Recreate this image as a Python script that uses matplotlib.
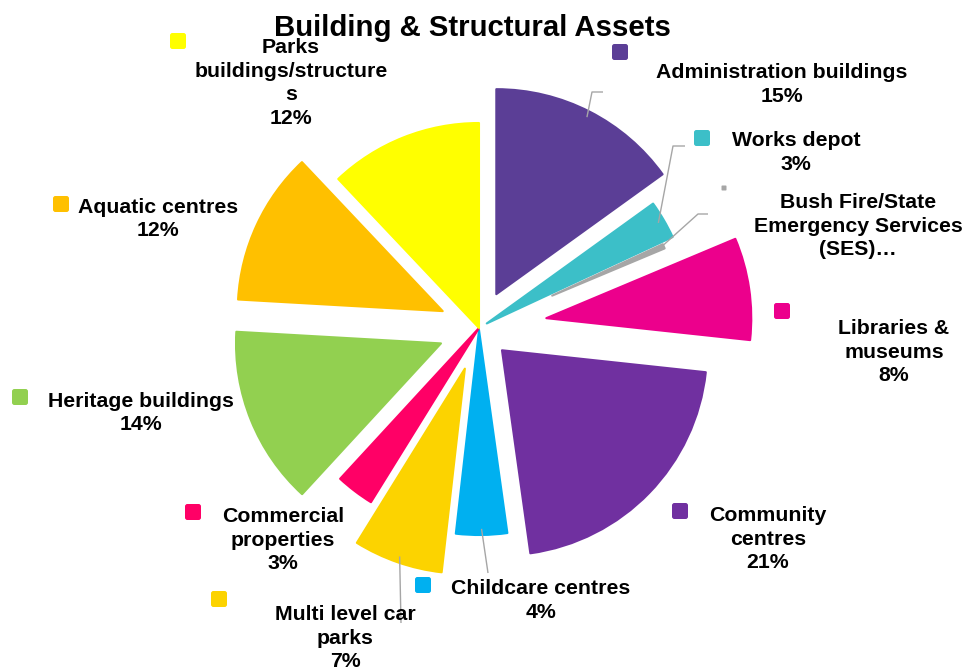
import numpy as np
import matplotlib.pyplot as plt
from matplotlib.patches import FancyBboxPatch

plt.rcParams["font.family"] = ["Liberation Sans", "DejaVu Sans"]

# slice names (wrapped as they are printed) and their shares in %
names = ["Administration buildings", "Works depot", "Bush Fire/State\nEmergency Services\n(SES)…",
         "Libraries &\nmuseums", "Community\ncentres", "Childcare centres",
         "Multi level car\nparks", "Commercial\nproperties", "Heritage buildings",
         "Aquatic centres", "Parks\nbuildings/structure\ns"]
shares = [15, 3, 0.6, 8, 21, 4, 7, 3, 14, 12, 12]
show_pct = [True, True, False, True, True, True, True, True, True, True, True]

colors = ["#5B3E96", "#3CBFC8", "#A6A6A6", "#EC008C", "#7030A0", "#00B0F0",
          "#FCD300", "#FF0066", "#92D050", "#FFC000", "#FFFF00"]

W, H = 963, 668
cx, cy, R = 479, H - 328, 205
explode_px = [38, 9, 80, 68, 32, 2, 43, 0, 41, 40, 0]
small_r = {2: 122}   # the thin grey slice is drawn shorter

# label anchors: first-line baseline (x centre, y from top) and key square centre
label_pos = [(782, 77), (796, 145), (858, 206), (894, 332), (768, 519), (541, 593),
             (345, 618), (283, 520), (141, 406), (158, 212), (291, 50)]
key_pos = [(620, 52), (702, 138), (724, 188), (782, 311), (680, 511), (423, 585),
           (219, 599), (193, 512), (20, 397), (61, 204), (178, 41)]
key_size = [16, 16, 5, 16, 16, 16, 16, 16, 16, 16, 16]
line_pitch = 24.5

# leader lines: slice index -> (elbow, end) in px from top
leaders = {0: [(592, 92), (603, 92)],
           1: [(673, 146), (685, 146)],
           2: [(698, 214), (708, 214)],
           5: [(488, 573)],
           6: [(401, 623)]}

fig = plt.figure(figsize=(W / 100, H / 100), dpi=100)
ax = fig.add_axes([0, 0, 1, 1])
wedges, _ = ax.pie(shares, colors=colors, explode=explode_px, radius=R, center=(cx, cy),
                   startangle=90, counterclock=False,
                   wedgeprops=dict(linewidth=1.5, joinstyle="round"))
for w, c in zip(wedges, colors):
    w.set_edgecolor(c)
for i, r in small_r.items():
    wedges[i].set_radius(r)
ax.set_xlim(0, W)
ax.set_ylim(0, H)
ax.set_aspect("equal")
ax.axis("off")

for i, pts in leaders.items():
    w = wedges[i]
    mid = np.deg2rad((w.theta1 + w.theta2) / 2)
    x0 = w.center[0] + w.r * 0.97 * np.cos(mid)
    y0 = w.center[1] + w.r * 0.97 * np.sin(mid)
    xs = [x0] + [p[0] for p in pts]
    ys = [y0] + [H - p[1] for p in pts]
    ax.plot(xs, ys, color="#A6A6A6", lw=1.0, solid_capstyle="butt")

for name, val, pct, (lx, ly), (kx, ky), ks, c in zip(names, shares, show_pct, label_pos,
                                                     key_pos, key_size, colors):
    txt = name + (f"\n{val:.0f}%" if pct else "")
    n_lines = txt.count("\n") + 1
    # baseline alignment sits on the last line
    ax.text(lx, H - ly - (n_lines - 1) * line_pitch, txt, ha="center", va="baseline",
            fontsize=15.3, fontweight="bold", linespacing=1.29, color="black")
    ax.add_patch(FancyBboxPatch((kx - ks / 2, H - ky - ks / 2), ks, ks,
                                boxstyle=f"round,pad=0,rounding_size={ks * 0.15}",
                                facecolor=c, edgecolor="none"))

fig.text(472 / W, 1 - 36 / H, "Building & Structural Assets", ha="center", va="baseline",
         fontsize=21.2, fontweight="bold")

fig.savefig("out.png", dpi=100)
